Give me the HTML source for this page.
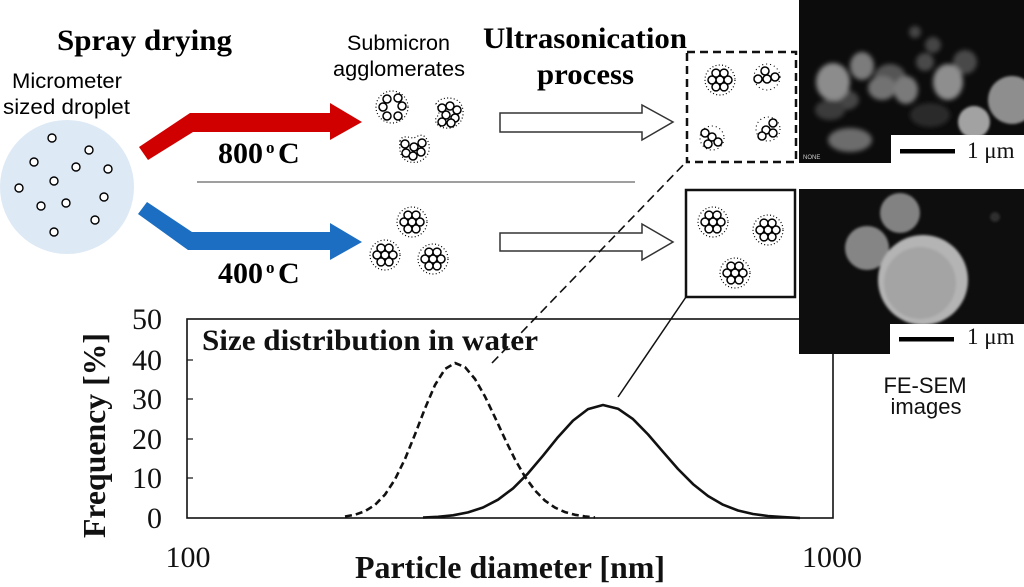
<!DOCTYPE html>
<html><head><meta charset="utf-8"><style>
html,body{margin:0;padding:0;background:#fff;width:1024px;height:587px;overflow:hidden}
svg{display:block}
.serif{font-family:"Liberation Serif",serif}
.sans{font-family:"Liberation Sans",sans-serif}
</style></head><body>
<svg width="1024" height="587" viewBox="0 0 1024 587" xmlns="http://www.w3.org/2000/svg">
<defs>
  <filter id="b3" x="-50%" y="-50%" width="200%" height="200%"><feGaussianBlur stdDeviation="2.5"/></filter>
  <filter id="b2" x="-50%" y="-50%" width="200%" height="200%"><feGaussianBlur stdDeviation="1.2"/></filter>
  <g id="hex">
    <circle cx="0" cy="0" r="15" fill="none" stroke="#000" stroke-width="1.2" stroke-dasharray="1 2.3"/>
    <g fill="#fff" stroke="#000" stroke-width="1.5">
      <circle cx="0" cy="0" r="4"/><circle cx="8" cy="0" r="4"/><circle cx="4" cy="6.9" r="4"/>
      <circle cx="-4" cy="6.9" r="4"/><circle cx="-8" cy="0" r="4"/><circle cx="-4" cy="-6.9" r="4"/><circle cx="4" cy="-6.9" r="4"/>
    </g>
  </g>
</defs>

<!-- Titles -->
<text class="serif" x="57" y="50" font-size="30" font-weight="bold" textLength="175" lengthAdjust="spacingAndGlyphs">Spray drying</text>
<text class="sans" x="12" y="88" font-size="21" textLength="110" lengthAdjust="spacingAndGlyphs">Micrometer</text>
<text class="sans" x="3" y="114" font-size="21" textLength="127" lengthAdjust="spacingAndGlyphs">sized droplet</text>
<text class="sans" x="347" y="50" font-size="21" textLength="103" lengthAdjust="spacingAndGlyphs">Submicron</text>
<text class="sans" x="333" y="76" font-size="21" textLength="132" lengthAdjust="spacingAndGlyphs">agglomerates</text>
<text class="serif" x="483" y="48" font-size="30" font-weight="bold" textLength="204" lengthAdjust="spacingAndGlyphs">Ultrasonication</text>
<text class="serif" x="537" y="84" font-size="30" font-weight="bold" textLength="97" lengthAdjust="spacingAndGlyphs">process</text>

<!-- droplet -->
<circle cx="67" cy="187" r="67" fill="#dde9f5"/>
<g fill="#fff" stroke="#000" stroke-width="1.4">
  <circle cx="52" cy="138" r="4"/><circle cx="89" cy="150" r="4"/><circle cx="34" cy="162" r="4"/>
  <circle cx="76" cy="167" r="4"/><circle cx="108" cy="169" r="4"/><circle cx="54" cy="181" r="4"/>
  <circle cx="19" cy="188" r="4"/><circle cx="104" cy="197" r="4"/><circle cx="41" cy="206" r="4"/>
  <circle cx="66" cy="203" r="4"/><circle cx="95" cy="220" r="4"/><circle cx="54" cy="232" r="4"/>
</g>

<!-- red & blue arrows -->
<polygon points="139,147 190,113 330,113 330,103 362,122 330,140 330,132 193,132 148,160" fill="#d10000"/>
<polygon points="147,202 192,232 330,232 330,223 362,242 330,260 330,250 188,250 138,214" fill="#1c6ec2"/>

<text class="serif" x="218" y="163" font-size="30" font-weight="bold" textLength="45" lengthAdjust="spacingAndGlyphs">800</text>
<text class="serif" x="266" y="153" font-size="17" font-weight="bold">o</text>
<text class="serif" x="278" y="163" font-size="30" font-weight="bold">C</text>
<text class="serif" x="218" y="283" font-size="30" font-weight="bold" textLength="45" lengthAdjust="spacingAndGlyphs">400</text>
<text class="serif" x="266" y="273" font-size="17" font-weight="bold">o</text>
<text class="serif" x="278" y="283" font-size="30" font-weight="bold">C</text>

<line x1="197" y1="182" x2="635" y2="182" stroke="#666" stroke-width="1.2"/>

<!-- agglomerates 800 -->
<g>
  <circle cx="392" cy="107" r="16" fill="none" stroke="#000" stroke-width="1.2" stroke-dasharray="1 2.3"/>
  <g fill="#fff" stroke="#000" stroke-width="1.5">
    <circle cx="387" cy="99" r="4"/><circle cx="398" cy="98" r="4"/><circle cx="383" cy="107" r="4"/>
    <circle cx="402" cy="106" r="4"/><circle cx="387" cy="116" r="4"/><circle cx="398" cy="116" r="4"/>
  </g>
  <path d="M436,104 C440,96 456,96 461,104 C466,114 462,126 450,128 C440,129 434,124 436,118 C440,114 440,110 436,104 Z" fill="none" stroke="#000" stroke-width="1.2" stroke-dasharray="1 2.3"/>
  <g fill="#fff" stroke="#000" stroke-width="1.5">
    <circle cx="442" cy="108" r="4"/><circle cx="450" cy="106" r="4"/><circle cx="457" cy="110" r="4"/>
    <circle cx="446" cy="115" r="4"/><circle cx="455" cy="118" r="4"/><circle cx="442" cy="122" r="4"/><circle cx="451" cy="123" r="4"/>
  </g>
  <path d="M400,141 C402,134 410,138 414,138 C418,136 422,133 426,138 C432,146 430,158 418,162 C406,164 398,158 400,141 Z" fill="none" stroke="#000" stroke-width="1.2" stroke-dasharray="1 2.3"/>
  <g fill="#fff" stroke="#000" stroke-width="1.5">
    <circle cx="405" cy="144" r="4"/><circle cx="414" cy="147" r="4"/><circle cx="422" cy="143" r="4"/>
    <circle cx="406" cy="153" r="4"/><circle cx="413" cy="156" r="4"/><circle cx="421" cy="152" r="4"/>
  </g>
</g>
<!-- agglomerates 400 -->
<use href="#hex" x="412" y="222"/>
<use href="#hex" x="385" y="255"/>
<use href="#hex" x="433" y="259"/>

<!-- hollow arrows -->
<polygon points="500,113 642,113 642,105 673,122 642,140 642,132 500,132" fill="#fff" stroke="#333" stroke-width="1.5"/>
<polygon points="500,233 642,233 642,224 673,242 642,260 642,251 500,251" fill="#fff" stroke="#333" stroke-width="1.5"/>

<!-- boxes -->
<rect x="687" y="52" width="109" height="110" fill="none" stroke="#111" stroke-width="2.5" stroke-dasharray="8 5"/>
<rect x="686" y="190" width="109" height="107" fill="none" stroke="#111" stroke-width="2.5"/>
<use href="#hex" x="720" y="80"/>
<g>
  <circle cx="767" cy="77" r="13" fill="none" stroke="#000" stroke-width="1.1" stroke-dasharray="1 3"/>
  <g fill="#fff" stroke="#000" stroke-width="1.5">
    <circle cx="765" cy="71" r="4"/><circle cx="758" cy="79" r="4"/><circle cx="767" cy="79" r="4"/><circle cx="775" cy="77" r="4"/>
  </g>
  <circle cx="712" cy="138" r="12" fill="none" stroke="#000" stroke-width="1.1" stroke-dasharray="1 3"/>
  <g fill="#fff" stroke="#000" stroke-width="1.5">
    <circle cx="705" cy="133" r="4"/><circle cx="712" cy="137" r="4"/><circle cx="708" cy="144" r="4"/><circle cx="718" cy="142" r="4"/>
  </g>
  <circle cx="768" cy="129" r="12" fill="none" stroke="#000" stroke-width="1.1" stroke-dasharray="1 3"/>
  <g fill="#fff" stroke="#000" stroke-width="1.5">
    <circle cx="773" cy="123" r="4"/><circle cx="766" cy="130" r="4"/><circle cx="773" cy="133" r="4"/><circle cx="762" cy="136" r="4"/>
  </g>
</g>
<use href="#hex" x="713" y="222"/>
<use href="#hex" x="768" y="230"/>
<use href="#hex" x="735" y="273"/>

<!-- plot -->
<rect x="187" y="319" width="646" height="199" fill="none" stroke="#111" stroke-width="1.6"/>
<g stroke="#111" stroke-width="1.2">
  <line x1="187" y1="360" x2="193" y2="360"/><line x1="187" y1="399" x2="193" y2="399"/>
  <line x1="187" y1="439" x2="193" y2="439"/><line x1="187" y1="478" x2="193" y2="478"/>
</g>
<g class="serif" font-size="30" text-anchor="end" fill="#111">
  <text x="162" y="329">50</text><text x="162" y="370">40</text><text x="162" y="409">30</text>
  <text x="162" y="449">20</text><text x="162" y="488">10</text><text x="162" y="528">0</text>
</g>
<text class="serif" x="188" y="567" font-size="30" text-anchor="middle" fill="#111">100</text>
<text class="serif" x="832" y="567" font-size="30" text-anchor="middle" fill="#111">1000</text>
<text class="serif" font-size="32" font-weight="bold" fill="#111" transform="translate(105,538) rotate(-90)" textLength="205" lengthAdjust="spacingAndGlyphs">Frequency [%]</text>
<text class="serif" x="355" y="578" font-size="32" font-weight="bold" fill="#111" textLength="310" lengthAdjust="spacingAndGlyphs">Particle diameter [nm]</text>
<text class="serif" x="202" y="350" font-size="30" font-weight="bold" fill="#111" textLength="336" lengthAdjust="spacingAndGlyphs">Size distribution in water</text>

<polyline fill="none" stroke="#111" stroke-width="2.6" stroke-dasharray="7 4" stroke-linejoin="round"
 points="345,516.5 355,514.7 365,511.2 375,504.9 385,494.6 395,479.4 405,459 415,434.4 425,408.4 435,385 445,369 455,363 465,367.1 475,379 485,396.5 495,417.4 505,439.1 515,459.4 525,476.8 535,490.5 545,500.7 555,507.6 565,512.1 575,514.8 585,516.4 595,517.5"/>
<polyline fill="none" stroke="#111" stroke-width="2.6" stroke-linejoin="round"
 points="423,517.5 438,516.8 453,515.3 468,512.4 483,507.5 498,499.7 513,488.4 528,473.4 543,455.7 558,437.1 573,420.6 588,409.1 603,405 618,408.7 633,419.1 648,434.4 663,451.8 678,469 693,484.1 708,496 723,504.7 738,510.5 753,514 768,516 783,517.1 800,518"/>

<!-- connectors -->
<line x1="492" y1="363" x2="687" y2="161" stroke="#111" stroke-width="1.6" stroke-dasharray="9 5"/>
<line x1="618" y1="397" x2="686" y2="297" stroke="#111" stroke-width="1.5"/>

<!-- SEM top -->
<rect x="799" y="0" width="225" height="163" fill="#0c0c0c"/>
<g filter="url(#b3)">
  <ellipse cx="890" cy="78" rx="16" ry="14" fill="#555"/>
  <ellipse cx="845" cy="100" rx="14" ry="10" fill="#444"/>
  <ellipse cx="965" cy="62" rx="12" ry="12" fill="#4a4a4a"/>
  <ellipse cx="833" cy="82" rx="17" ry="19" fill="#8c8c8c"/>
  <ellipse cx="862" cy="66" rx="12" ry="14" fill="#7c7c7c"/>
  <ellipse cx="882" cy="88" rx="14" ry="12" fill="#727272"/>
  <ellipse cx="906" cy="90" rx="12" ry="14" fill="#7a7a7a"/>
  <ellipse cx="948" cy="82" rx="15" ry="18" fill="#8e8e8e"/>
  <ellipse cx="925" cy="62" rx="9" ry="9" fill="#4a4a4a"/>
  <ellipse cx="915" cy="32" rx="6" ry="6" fill="#444"/>
  <ellipse cx="933" cy="45" rx="8" ry="8" fill="#444"/>
  <ellipse cx="850" cy="140" rx="22" ry="12" fill="#6c6c6c"/>
  <ellipse cx="830" cy="110" rx="15" ry="10" fill="#3a3a3a"/>
  <ellipse cx="930" cy="115" rx="20" ry="12" fill="#2c2c2c"/>
</g>
<g filter="url(#b2)">
  <circle cx="974" cy="122" r="16" fill="#a2a2a2"/>
  <circle cx="1012" cy="100" r="24" fill="#8e8e8e"/>
</g>
<rect x="891" y="135" width="133" height="28" fill="#fff"/>
<rect x="900" y="149" width="55" height="4.5" fill="#000"/>
<text class="serif" x="967" y="158" font-size="23" fill="#111">1 μm</text>
<text class="sans" x="803" y="159" font-size="6" fill="#ccc">NONE</text>

<!-- SEM bottom -->
<rect x="799" y="189" width="225" height="165" fill="#0e0e0e"/>
<g filter="url(#b2)">
  <circle cx="995" cy="217" r="5" fill="#2e2e2e"/>
  <circle cx="867" cy="248" r="22" fill="#858585"/>
  <circle cx="900" cy="213" r="20" fill="#828282"/>
  <circle cx="923" cy="280" r="45" fill="#b4b4b4"/>
  <circle cx="920" cy="283" r="36" fill="#a4a4a4"/>
</g>
<rect x="890" y="324" width="134" height="30" fill="#fff"/>
<rect x="899" y="337" width="55" height="4.5" fill="#000"/>
<text class="serif" x="967" y="344" font-size="23" fill="#111">1 μm</text>

<text class="sans" x="925" y="393" font-size="22" text-anchor="middle" fill="#111">FE-SEM</text>
<text class="sans" x="926" y="414" font-size="22" text-anchor="middle" fill="#111">images</text>
</svg>
</body></html>
